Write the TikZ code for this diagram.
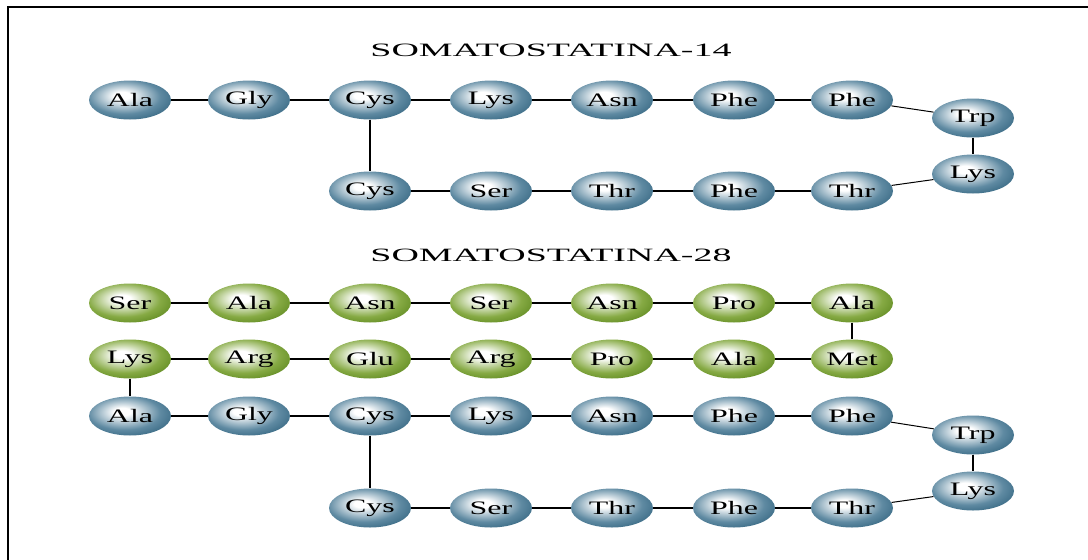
\documentclass[tikz,border=0pt]{standalone}
\usepackage{fontspec}
\setmainfont{Liberation Serif}
\usetikzlibrary{shapes.geometric}
\definecolor{blueD}{HTML}{164C69}
\definecolor{blueM}{HTML}{5F8AA2}
\definecolor{greenD}{HTML}{427106}
\definecolor{greenM}{HTML}{86AA44}
\pgfdeclareradialshading{blueball}{\pgfpoint{-5bp}{6bp}}{color(0bp)=(white); color(5bp)=(white); color(22bp)=(blueM); color(38bp)=(blueD!85!blueM); color(47bp)=(blueD); color(80bp)=(blueD)}
\pgfdeclareradialshading{greenball}{\pgfpoint{-5bp}{6bp}}{color(0bp)=(white); color(5bp)=(white); color(22bp)=(greenM); color(38bp)=(greenD!85!greenM); color(47bp)=(greenD); color(80bp)=(greenD)}
\newcommand{\lab}[1]{\scalebox{1.68}[1]{#1}}
\tikzset{
  res/.style={ellipse, minimum width=82pt, minimum height=39pt, inner sep=0pt,
    font=\fontsize{19}{21}\selectfont},
  bres/.style={res, shading=blueball},
  gres/.style={res, shading=greenball},
  link/.style={line width=1.2pt},
  bond/.style={line width=2.2pt},
  diag/.style={line width=1pt},
  ttl/.style={inner sep=0pt}
}
\begin{document}
\begin{tikzpicture}[x=1pt,y=-1pt]
\useasboundingbox (0,0) rectangle (1088,560);
\draw[line width=1.5pt] (8,560) -- (8,7) -- (1088,7);

\node[ttl] (t1) at (551,50) {\resizebox{361pt}{12.5pt}{SOMATOSTATINA-14}};
\node[ttl] (t2) at (551,255) {\resizebox{361pt}{12.5pt}{SOMATOSTATINA-28}};

% Somatostatina-14
\node[bres] (a1) at (130,100) {\lab{Ala}};
\node[bres] (a2) at (249,100) {\lab{Gly}};
\node[bres] (a3) at (370,100) {\lab{Cys}};
\node[bres] (a4) at (491,100) {\lab{Lys}};
\node[bres] (a5) at (612,100) {\lab{Asn}};
\node[bres] (a6) at (734,100) {\lab{Phe}};
\node[bres] (a7) at (852,100) {\lab{Phe}};
\node[bres] (a8) at (973,118) {\lab{Trp}};
\node[bres] (a9) at (973,174) {\lab{Lys}};
\node[bres] (b1) at (370,191) {\lab{Cys}};
\node[bres] (b2) at (491,191) {\lab{Ser}};
\node[bres] (b3) at (612,191) {\lab{Thr}};
\node[bres] (b4) at (734,191) {\lab{Phe}};
\node[bres] (b5) at (852,191) {\lab{Thr}};

\draw[link] (a1)--(a2) (a2)--(a3) (a3)--(a4) (a4)--(a5) (a5)--(a6) (a6)--(a7);
\draw[link] (b1)--(b2) (b2)--(b3) (b3)--(b4) (b4)--(b5);
\draw[diag] (a7)--(a8) (a9)--(b5);
\draw[bond] (a8)--(a9) (a3)--(b1);

% Somatostatina-28
\node[gres] (g1) at (130,303) {\lab{Ser}};
\node[gres] (g2) at (249,303) {\lab{Ala}};
\node[gres] (g3) at (370,303) {\lab{Asn}};
\node[gres] (g4) at (491,303) {\lab{Ser}};
\node[gres] (g5) at (612,303) {\lab{Asn}};
\node[gres] (g6) at (734,303) {\lab{Pro}};
\node[gres] (g7) at (852,303) {\lab{Ala}};
\node[gres] (h1) at (130,359) {\lab{Lys}};
\node[gres] (h2) at (249,359) {\lab{Arg}};
\node[gres] (h3) at (370,359) {\lab{Glu}};
\node[gres] (h4) at (491,359) {\lab{Arg}};
\node[gres] (h5) at (612,359) {\lab{Pro}};
\node[gres] (h6) at (734,359) {\lab{Ala}};
\node[gres] (h7) at (852,359) {\lab{Met}};

\node[bres] (c1) at (130,416) {\lab{Ala}};
\node[bres] (c2) at (249,416) {\lab{Gly}};
\node[bres] (c3) at (370,416) {\lab{Cys}};
\node[bres] (c4) at (491,416) {\lab{Lys}};
\node[bres] (c5) at (612,416) {\lab{Asn}};
\node[bres] (c6) at (734,416) {\lab{Phe}};
\node[bres] (c7) at (852,416) {\lab{Phe}};
\node[bres] (c8) at (973,435) {\lab{Trp}};
\node[bres] (c9) at (973,491) {\lab{Lys}};
\node[bres] (d1) at (370,508) {\lab{Cys}};
\node[bres] (d2) at (491,508) {\lab{Ser}};
\node[bres] (d3) at (612,508) {\lab{Thr}};
\node[bres] (d4) at (734,508) {\lab{Phe}};
\node[bres] (d5) at (852,508) {\lab{Thr}};

\draw[link] (g1)--(g2) (g2)--(g3) (g3)--(g4) (g4)--(g5) (g5)--(g6) (g6)--(g7);
\draw[link] (h1)--(h2) (h2)--(h3) (h3)--(h4) (h4)--(h5) (h5)--(h6) (h6)--(h7);
\draw[link] (c1)--(c2) (c2)--(c3) (c3)--(c4) (c4)--(c5) (c5)--(c6) (c6)--(c7);
\draw[link] (d1)--(d2) (d2)--(d3) (d3)--(d4) (d4)--(d5);
\draw[diag] (c7)--(c8) (c9)--(d5);
\draw[bond] (g7)--(h7) (h1)--(c1) (c8)--(c9) (c3)--(d1);
\end{tikzpicture}
\end{document}
